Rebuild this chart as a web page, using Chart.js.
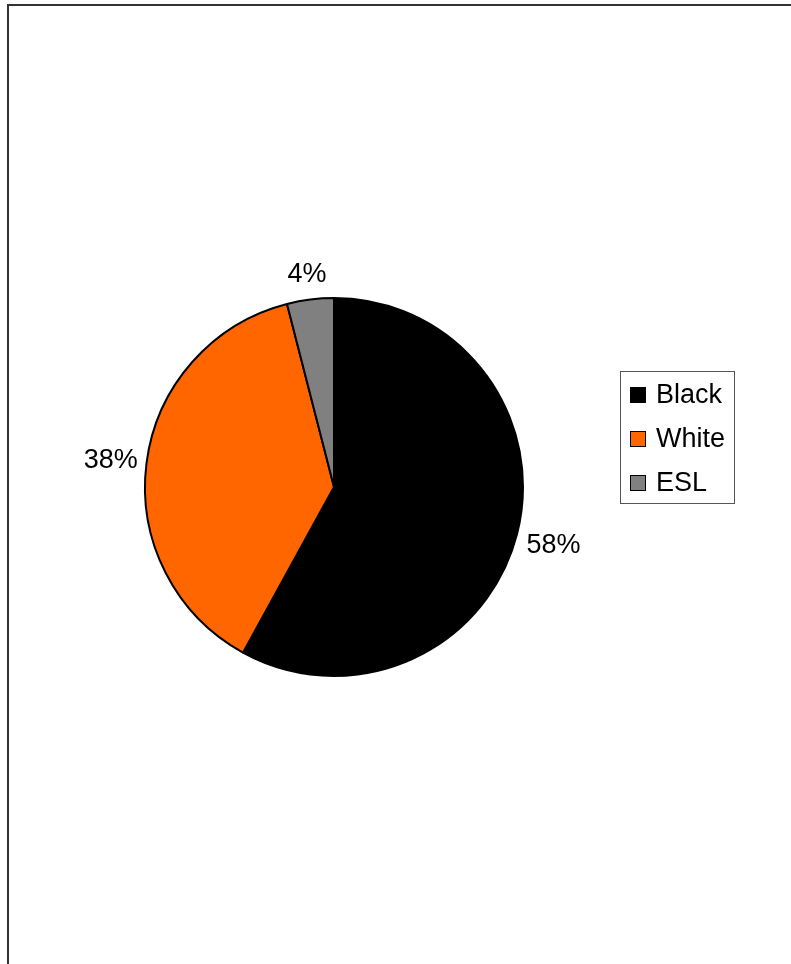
<!DOCTYPE html>
<html>
<head>
<meta charset="utf-8">
<script src="https://cdn.jsdelivr.net/npm/chart.js@4.4.0/dist/chart.umd.min.js"></script>
<style>
  body { margin: 0; background: #fff; }
  #pie { display: block; }
</style>
</head>
<body>
<canvas id="pie" width="791" height="964"></canvas>
<script>
// groups and their share (percent)
var groups = ['Black', 'White', 'ESL'];
var shares = [58, 38, 4];
var sliceColors = ['#000000', '#ff6600', '#808080'];

var FONT = '"Liberation Sans", Arial, sans-serif';

// frame round the whole picture
var framePlugin = {
    id: 'frame',
    beforeDraw: function (chart) {
        var c = chart.ctx;
        c.save();
        c.fillStyle = '#fff';
        c.fillRect(0, 0, chart.width, chart.height);
        c.strokeStyle = '#333';
        c.lineWidth = 2;
        c.strokeRect(8, 5, chart.width + 20, chart.height + 20);
        c.restore();
    }
};

// percent labels outside each slice
var labelPlugin = {
    id: 'outLabels',
    afterDatasetsDraw: function (chart) {
        var c = chart.ctx;
        var meta = chart.getDatasetMeta(0);
        var total = shares.reduce(function (a, b) { return a + b; }, 0);
        c.save();
        c.font = '27px ' + FONT;
        c.fillStyle = '#000';
        c.textAlign = 'center';
        c.textBaseline = 'alphabetic';
        meta.data.forEach(function (arc, i) {
            var mid = (arc.startAngle + arc.endAngle) / 2;
            var txt = Math.round(shares[i] / total * 100) + '%';
            var hw = c.measureText(txt).width / 2;
            var dx = Math.cos(mid), dy = Math.sin(mid);
            var d = arc.outerRadius + 7 + hw * Math.abs(dx) + 18 * Math.abs(dy);
            var x = arc.x + dx * d;
            var y = arc.y + dy * d;
            c.fillText(txt, x, y + 27 * 0.716 / 2);
        });
        c.restore();
    }
};

// boxed legend on the right
var legendPlugin = {
    id: 'boxLegend',
    afterDraw: function (chart) {
        var c = chart.ctx;
        var ds = chart.data.datasets[0];
        c.save();
        c.strokeStyle = '#555';
        c.lineWidth = 1;
        c.strokeRect(620.5, 371.5, 114, 132);
        c.font = '27px ' + FONT;
        c.textBaseline = 'middle';
        c.textAlign = 'left';
        chart.data.labels.forEach(function (lab, i) {
            var cy = 395 + i * 44;
            c.fillStyle = ds.backgroundColor[i];
            c.fillRect(630, cy - 8, 16, 16);
            c.strokeStyle = '#000';
            c.strokeRect(630.5, cy - 7.5, 15, 15);
            c.fillStyle = '#000';
            c.fillText(lab, 656, cy + 1);
        });
        c.restore();
    }
};

new Chart(document.getElementById('pie'), {
    type: 'pie',
    data: {
        labels: groups,
        datasets: [{
            data: shares,
            backgroundColor: sliceColors,
            borderColor: '#000',
            borderWidth: 2
        }]
    },
    options: {
        responsive: false,
        animation: false,
        devicePixelRatio: 1,
        layout: { padding: { left: 144, right: 267, top: 297, bottom: 287 } },
        plugins: {
            legend: { display: false },
            tooltip: { enabled: false }
        }
    },
    plugins: [framePlugin, labelPlugin, legendPlugin]
});
</script>
</body>
</html>
